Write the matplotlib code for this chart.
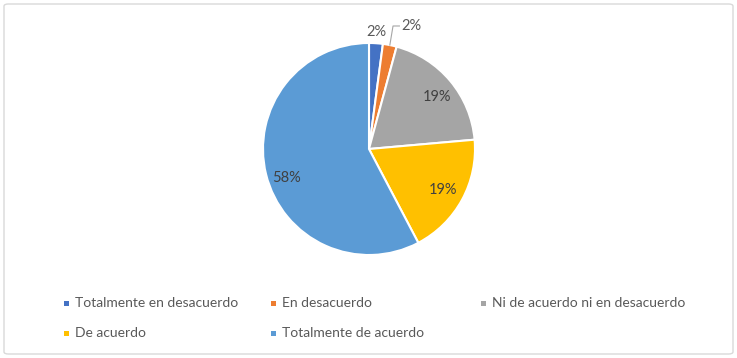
import numpy as np
import matplotlib
matplotlib.use("Agg")
import matplotlib.pyplot as plt
from matplotlib.patches import FancyBboxPatch, Rectangle

# datos (estimados de los angulos; etiquetas redondeadas)
categorias = ["Totalmente en desacuerdo", "En desacuerdo",
              "Ni de acuerdo ni en desacuerdo", "De acuerdo",
              "Totalmente de acuerdo"]
porcentajes = [2.1, 2.1, 19.4, 18.7, 57.7]
colores = ["#4472C4", "#ED7D31", "#A5A5A5", "#FFC000", "#5B9BD5"]

plt.rcParams['font.family'] = ['Lato', 'DejaVu Sans']
W, H = 737, 358
fig = plt.figure(figsize=(W / 100, H / 100), dpi=100)

# borde del grafico
fig.patches.append(FancyBboxPatch((4 / W, 4 / H), 729 / W, 350 / H,
                                  boxstyle="round,pad=0,rounding_size=0.006",
                                  transform=fig.transFigure, fill=False,
                                  edgecolor="#D9D9D9", linewidth=1))

# torta: centro (369,149) px, radio 106 px
cx, cy, r = 369, 149, 106
ax = fig.add_axes([(cx - r) / W, (H - cy - r) / H, 2 * r / W, 2 * r / H])
wedges, textos, autotextos = ax.pie(
    porcentajes, colors=colores, startangle=90, counterclock=False,
    autopct=lambda p: f"{p:.0f}%", pctdistance=0.8,
    wedgeprops=dict(edgecolor="white", linewidth=1.5),
    textprops=dict(color="#404040", fontsize=10.5))
ax.set_xlim(-1, 1)
ax.set_ylim(-1, 1)

# primer 2%: fuera de la torta
w = wedges[0]
ang = np.deg2rad((w.theta1 + w.theta2) / 2)
autotextos[0].set_position((1.11 * np.cos(ang), 1.11 * np.sin(ang)))
autotextos[0].set_color("#595959")

# segundo 2% con linea guia
w = wedges[1]
ang = np.deg2rad((w.theta1 + w.theta2) / 2)
x0, y0 = np.cos(ang), np.sin(ang)
ax.plot([x0, x0 + 0.03, x0 + 0.09], [y0, y0 + 0.18, y0 + 0.18],
        color="#A6A6A6", linewidth=0.8, clip_on=False)
autotextos[1].set_position((x0 + 0.11, y0 + 0.18))
autotextos[1].set_ha("left")
autotextos[1].set_color("#595959")

# ajuste fino de las etiquetas interiores (como en el original)
gx, gy = autotextos[2].get_position()
autotextos[2].set_position((gx + 0.03, gy - 0.02))
bx, by = autotextos[4].get_position()
autotextos[4].set_position((bx, by - 0.08))

# leyenda manual (3 columnas, 2 filas)
col_x = [66, 273, 483]
fila_y = [303, 333]
for k, (cat, col) in enumerate(zip(categorias, colores)):
    x = col_x[k % 3]
    y = fila_y[k // 3]
    fig.patches.append(Rectangle(((x - 2.5) / W, (H - y - 2.5) / H), 5 / W, 5 / H,
                                 transform=fig.transFigure, facecolor=col,
                                 edgecolor="none"))
    fig.text((x + 9) / W, (H - y) / H, cat, fontsize=10, color="#595959",
             va="center", ha="left")

fig.savefig("out.png", dpi=100)
